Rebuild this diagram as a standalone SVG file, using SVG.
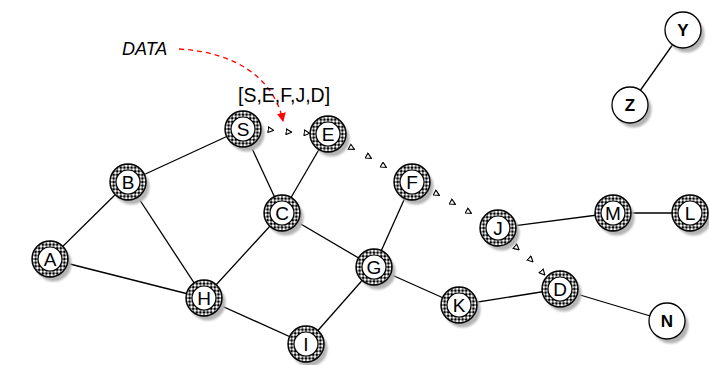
<svg xmlns="http://www.w3.org/2000/svg" xmlns:xlink="http://www.w3.org/1999/xlink" width="709" height="365" viewBox="0 0 709 365">
<style>
.edge{stroke:#000;stroke-width:1.3;fill:none}
.lbl{font-family:"Liberation Sans",Arial,sans-serif;font-size:19px;text-anchor:middle;fill:#000}
.bold{font-weight:bold;font-size:17px}
.route{fill:none;stroke:none;marker-start:url(#tri);marker-mid:url(#tri);marker-end:url(#tri)}
.txt{font-family:"Liberation Sans",Arial,sans-serif;fill:#000}
</style>
<defs>
<pattern id="hatch" width="3.6" height="3.6" patternUnits="userSpaceOnUse">
<rect width="3.6" height="3.6" fill="#000"/>
<rect x="0.5" y="0.5" width="2.6" height="2.6" fill="#fff" transform="rotate(45 1.8 1.8)"/>
</pattern>
<filter id="blur" x="-30%" y="-30%" width="160%" height="160%"><feGaussianBlur stdDeviation="0.8"/></filter>
<marker id="tri" viewBox="0 0 10 10" refX="5" refY="5" markerWidth="7" markerHeight="7" markerUnits="userSpaceOnUse" orient="auto">
<path d="M1,1 L9,5 L1,9 Z" fill="#fff" stroke="#000" stroke-width="1.6"/>
</marker>
<marker id="redArrow" viewBox="0 0 10 10" refX="9" refY="5" markerWidth="9" markerHeight="9" markerUnits="userSpaceOnUse" orient="auto">
<path d="M0,0 L10,5 L0,10 Z" fill="#f00"/>
</marker>
<g id="hnode">
<circle cx="3.5" cy="4.5" r="18" fill="#b4b4b4" filter="url(#blur)"/>
<circle r="18" fill="url(#hatch)" stroke="#000" stroke-width="1.4"/>
<circle r="12" fill="#fff" stroke="#000" stroke-width="1.2"/>
</g>
<g id="pnode">
<circle cx="3.5" cy="4.5" r="18" fill="#b4b4b4" filter="url(#blur)"/>
<circle r="18" fill="#fff" stroke="#000" stroke-width="1.3"/>
</g>
</defs>
<rect width="709" height="365" fill="#fff"/>
<g id="connectors">
<line class="edge" x1="243" y1="129" x2="128" y2="182"/>
<line class="edge" x1="243" y1="129" x2="282" y2="213"/>
<line class="edge" x1="328" y1="134" x2="282" y2="213"/>
<line class="edge" x1="128" y1="182" x2="50" y2="259"/>
<line class="edge" x1="128" y1="182" x2="204" y2="298"/>
<line class="edge" x1="50" y1="259" x2="204" y2="298"/>
<line class="edge" x1="282" y1="213" x2="204" y2="298"/>
<line class="edge" x1="282" y1="213" x2="374" y2="267"/>
<line class="edge" x1="204" y1="298" x2="306" y2="344"/>
<line class="edge" x1="306" y1="344" x2="374" y2="267"/>
<line class="edge" x1="374" y1="267" x2="412" y2="182"/>
<line class="edge" x1="374" y1="267" x2="459" y2="305"/>
<line class="edge" x1="459" y1="305" x2="560" y2="289"/>
<line class="edge" x1="498" y1="228" x2="613" y2="213"/>
<line class="edge" x1="613" y1="213" x2="690" y2="213"/>
<line class="edge" x1="560" y1="289" x2="667" y2="321"/>
<line class="edge" x1="683" y1="30" x2="630" y2="105"/>
<path class="route" d="M271,130 L289,132 L307,133"/>
<path class="route" d="M352,148 L369,157 L384,166"/>
<path class="route" d="M437,194 L453,203 L469,212"/>
<path class="route" d="M517,248 L531,260 L543,273"/>
<path d="M179,49 C235,52 274,78 283,121" fill="none" stroke="#f00" stroke-width="1.3" stroke-dasharray="5,4" marker-end="url(#redArrow)"/>
</g>
<text class="txt" x="122" y="55" font-size="18" font-style="italic">DATA</text>
<text class="txt" x="238" y="102" font-size="19.5">[S,E,F,J,D]</text>
<g id="S" transform="translate(243,129)"><use xlink:href="#hnode"/><text class="lbl" y="7">S</text></g>
<g id="E" transform="translate(328,134)"><use xlink:href="#hnode"/><text class="lbl" y="7">E</text></g>
<g id="B" transform="translate(128,182)"><use xlink:href="#hnode"/><text class="lbl" y="7">B</text></g>
<g id="C" transform="translate(282,213)"><use xlink:href="#hnode"/><text class="lbl" y="7">C</text></g>
<g id="F" transform="translate(412,182)"><use xlink:href="#hnode"/><text class="lbl" y="7">F</text></g>
<g id="J" transform="translate(498,228)"><use xlink:href="#hnode"/><text class="lbl" y="7">J</text></g>
<g id="M" transform="translate(613,213)"><use xlink:href="#hnode"/><text class="lbl" y="7">M</text></g>
<g id="L" transform="translate(690,213)"><use xlink:href="#hnode"/><text class="lbl" y="7">L</text></g>
<g id="A" transform="translate(50,259)"><use xlink:href="#hnode"/><text class="lbl" y="7">A</text></g>
<g id="H" transform="translate(204,298)"><use xlink:href="#hnode"/><text class="lbl" y="7">H</text></g>
<g id="G" transform="translate(374,267)"><use xlink:href="#hnode"/><text class="lbl" y="7">G</text></g>
<g id="K" transform="translate(459,305)"><use xlink:href="#hnode"/><text class="lbl" y="7">K</text></g>
<g id="D" transform="translate(560,289)"><use xlink:href="#hnode"/><text class="lbl" y="7">D</text></g>
<g id="I" transform="translate(306,344)"><use xlink:href="#hnode"/><text class="lbl" y="7">I</text></g>
<g id="N" transform="translate(667,321)"><use xlink:href="#pnode"/><text class="lbl bold" y="6">N</text></g>
<g id="Y" transform="translate(683,30)"><use xlink:href="#pnode"/><text class="lbl bold" y="6">Y</text></g>
<g id="Z" transform="translate(630,105)"><use xlink:href="#pnode"/><text class="lbl bold" y="6">Z</text></g>
</svg>
